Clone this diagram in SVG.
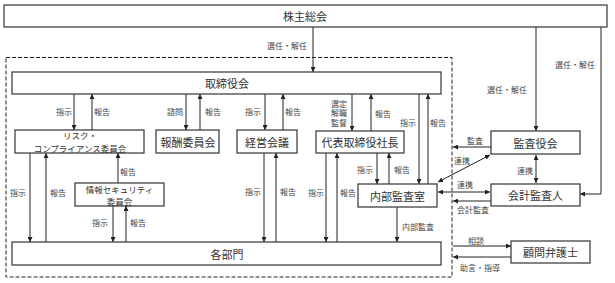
<svg xmlns="http://www.w3.org/2000/svg" width="615" height="283" viewBox="0 0 615 283">
<style>
.box{fill:#fff;stroke:#333;stroke-width:1.2}
.t{font-family:"Noto Sans CJK JP","Noto Sans",sans-serif;font-size:11px;fill:#333;text-anchor:middle;dominant-baseline:central}
.s{font-family:"Noto Sans CJK JP","Noto Sans",sans-serif;font-size:8px;fill:#444;text-anchor:middle;dominant-baseline:central}
.ss{font-family:"Noto Sans CJK JP","Noto Sans",sans-serif;font-size:8.5px;fill:#333;text-anchor:middle;dominant-baseline:central}
.c{fill:none;stroke:#222;stroke-width:1}
.a{marker-end:url(#ah)}
.d{marker-start:url(#as);marker-end:url(#ah)}
</style>
<defs>
<marker id="ah" viewBox="0 0 6 6" refX="6" refY="3" markerWidth="5" markerHeight="5" markerUnits="userSpaceOnUse" orient="auto"><path d="M0,0L6,3L0,6z" fill="#222"/></marker>
<marker id="as" viewBox="0 0 6 6" refX="0" refY="3" markerWidth="5" markerHeight="5" markerUnits="userSpaceOnUse" orient="auto"><path d="M6,0L0,3L6,6z" fill="#222"/></marker>
</defs>
<rect x="0" y="0" width="615" height="283" fill="#fff"/>
<rect x="6" y="57.5" width="446" height="219.5" fill="none" stroke="#222" stroke-width="1" stroke-dasharray="4,2"/>

<g id="connectors">
<line class="c a" x1="313" y1="27" x2="313" y2="72"/>
<line class="c a" x1="536" y1="27" x2="536" y2="131"/>
<polyline class="c a" points="601,27 601,194 580,194"/>
<line class="c a" x1="74" y1="94" x2="74" y2="130"/>
<line class="c a" x1="92" y1="130" x2="92" y2="94"/>
<line class="c a" x1="186" y1="94" x2="186" y2="130"/>
<line class="c a" x1="200" y1="130" x2="200" y2="94"/>
<line class="c a" x1="265" y1="94" x2="265" y2="130"/>
<line class="c a" x1="283" y1="130" x2="283" y2="94"/>
<line class="c a" x1="352" y1="94" x2="352" y2="131"/>
<line class="c a" x1="371" y1="131" x2="371" y2="94"/>
<line class="c a" x1="419" y1="94" x2="419" y2="184"/>
<line class="c a" x1="428" y1="184" x2="428" y2="94"/>
<line class="c a" x1="377" y1="153" x2="377" y2="184"/>
<line class="c a" x1="389" y1="184" x2="389" y2="153"/>
<line class="c a" x1="326" y1="153" x2="326" y2="242"/>
<line class="c a" x1="337" y1="242" x2="337" y2="153"/>
<line class="c a" x1="264" y1="153" x2="264" y2="242"/>
<line class="c a" x1="276" y1="242" x2="276" y2="153"/>
<line class="c a" x1="30" y1="153" x2="30" y2="242"/>
<line class="c a" x1="46" y1="242" x2="46" y2="153"/>
<line class="c a" x1="118" y1="183" x2="118" y2="153"/>
<line class="c a" x1="113" y1="206" x2="113" y2="242"/>
<line class="c a" x1="126" y1="242" x2="126" y2="206"/>
<line class="c a" x1="397" y1="207" x2="397" y2="242"/>
<line class="c a" x1="491" y1="147" x2="453" y2="147"/>
<line class="c d" x1="438" y1="182" x2="490" y2="155"/>
<line class="c d" x1="536" y1="155" x2="536" y2="183"/>
<line class="c d" x1="438" y1="192" x2="490" y2="192"/>
<line class="c a" x1="491" y1="201" x2="453" y2="201"/>
<line class="c a" x1="453" y1="246" x2="511" y2="246"/>
<line class="c a" x1="511" y1="257" x2="453" y2="257"/>
</g>

<g id="labels">
<text class="s" x="287" y="45">選任・解任</text>
<text class="s" x="507" y="89">選任・解任</text>
<text class="s" x="575" y="64">選任・解任</text>
<text class="s" x="64" y="111">指示</text>
<text class="s" x="102" y="111">報告</text>
<text class="s" x="175" y="111">諮問</text>
<text class="s" x="213" y="111">報告</text>
<text class="s" x="253" y="111">指示</text>
<text class="s" x="293" y="111">報告</text>
<text class="s" x="339" y="103">選定</text>
<text class="s" x="339" y="112.5">解職</text>
<text class="s" x="339" y="122">監督</text>
<text class="s" x="383" y="113">報告</text>
<text class="s" x="408" y="122">指示</text>
<text class="s" x="438" y="122">報告</text>
<text class="s" x="365" y="169">指示</text>
<text class="s" x="402" y="169">報告</text>
<text class="s" x="316" y="192">指示</text>
<text class="s" x="348" y="192">報告</text>
<text class="s" x="253" y="191">指示</text>
<text class="s" x="288" y="191">報告</text>
<text class="s" x="18" y="192">指示</text>
<text class="s" x="58" y="192">報告</text>
<text class="s" x="128" y="171">報告</text>
<text class="s" x="100" y="222">指示</text>
<text class="s" x="138" y="222">報告</text>
<text class="s" x="418" y="226">内部監査</text>
<text class="s" x="475" y="140">監査</text>
<text class="s" x="462" y="160">連携</text>
<text class="s" x="525" y="170">連携</text>
<text class="s" x="465" y="184">連携</text>
<text class="s" x="473" y="209">会計監査</text>
<text class="s" x="476" y="240">相談</text>
<text class="s" x="480" y="267">助言・指導</text>
</g>

<g id="kabunushi"><rect class="box" x="4" y="5" width="603" height="22"/><text class="t" x="305" y="16">株主総会</text></g>
<g id="torishimariyakukai"><rect class="box" x="12" y="72" width="429" height="22"/><text class="t" x="227" y="83">取締役会</text></g>
<g id="risk"><rect class="box" x="15" y="130" width="129" height="23"/><text class="ss" x="80" y="135">リスク・</text><text class="ss" x="80" y="147.6">コンプライアンス委員会</text></g>
<g id="hoshu"><rect class="box" x="156" y="130" width="63" height="23"/><text class="t" x="188" y="141.5">報酬委員会</text></g>
<g id="keiei"><rect class="box" x="237" y="130" width="60" height="23"/><text class="t" x="267" y="141.5">経営会議</text></g>
<g id="daihyo"><rect class="box" x="316" y="131" width="88" height="22"/><text class="t" x="360" y="142">代表取締役社長</text></g>
<g id="joho"><rect class="box" x="75" y="183" width="89" height="23"/><text class="ss" x="119.5" y="188.5">情報セキュリティ</text><text class="ss" x="119.5" y="201.1">委員会</text></g>
<g id="naibu"><rect class="box" x="358" y="184" width="79" height="23"/><text class="t" x="397.5" y="195.5">内部監査室</text></g>
<g id="kakubumon"><rect class="box" x="12" y="242" width="429" height="23"/><text class="t" x="227" y="253.5">各部門</text></g>
<g id="kansayaku"><rect class="box" x="491" y="131" width="89" height="23"/><text class="t" x="535.5" y="142.5">監査役会</text></g>
<g id="kaikei"><rect class="box" x="491" y="184" width="89" height="22"/><text class="t" x="535.5" y="195">会計監査人</text></g>
<g id="komon"><rect class="box" x="511" y="241" width="79" height="22"/><text class="t" x="550.5" y="252">顧問弁護士</text></g>
</svg>
